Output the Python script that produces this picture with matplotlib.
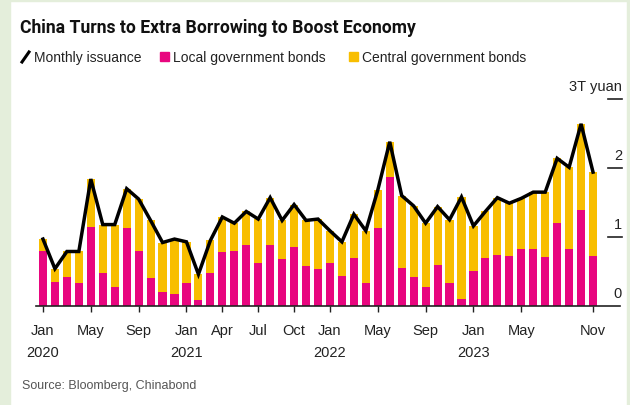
import numpy as np
import matplotlib
matplotlib.use("Agg")
import matplotlib.pyplot as plt
from matplotlib import font_manager
from matplotlib.patches import Rectangle
from matplotlib.lines import Line2D

# monthly bond issuance, trillion yuan, Jan 2020 - Nov 2023
local_bonds = [0.79, 0.35, 0.42, 0.34, 1.15, 0.48, 0.27, 1.13, 0.80, 0.41, 0.21, 0.18,
               0.34, 0.09, 0.48, 0.78, 0.80, 0.88, 0.63, 0.89, 0.68, 0.85, 0.58, 0.53,
               0.63, 0.44, 0.69, 0.33, 1.13, 1.87, 0.55, 0.42, 0.28, 0.60, 0.33, 0.10,
               0.51, 0.69, 0.74, 0.73, 0.83, 0.82, 0.71, 1.21, 0.83, 1.39, 0.73]
central_bonds = [0.18, 0.19, 0.37, 0.45, 0.69, 0.70, 0.91, 0.57, 0.75, 0.83, 0.71, 0.79,
                 0.59, 0.37, 0.47, 0.51, 0.40, 0.49, 0.63, 0.68, 0.56, 0.62, 0.66, 0.73,
                 0.46, 0.49, 0.64, 0.76, 0.55, 0.51, 1.05, 1.03, 0.92, 0.84, 0.92, 1.48,
                 0.65, 0.68, 0.83, 0.76, 0.73, 0.83, 0.94, 0.93, 1.18, 1.25, 1.21]

tick_months = [0, 4, 8, 12, 15, 18, 21, 24, 28, 32, 36, 40, 46]
tick_labels = ["Jan\n2020", "May", "Sep", "Jan\n2021", "Apr", "Jul", "Oct",
               "Jan\n2022", "May", "Sep", "Jan\n2023", "May", "Nov"]
y_ticks = [0, 1, 2, 3]
y_labels = ["0", "1", "2", "3T yuan"]

MAGENTA = "#e8067f"
YELLOW = "#f8be00"
W, H = 630, 406

names = {f.name for f in font_manager.fontManager.ttflist}
base_font = "Liberation Sans" if "Liberation Sans" in names else "DejaVu Sans"
title_font = "Roboto" if "Roboto" in names else base_font
plt.rcParams["font.family"] = [base_font, "DejaVu Sans"]

local = np.array(local_bonds)
central = np.array(central_bonds)
total = local + central
x = np.arange(len(local))

fig = plt.figure(figsize=(W / 100, H / 100), dpi=100)
fig.patch.set_facecolor("white")

# pale green frame around the card
for rx, ry, rw, rh in [(0, 0, 10, H), (0, H - 2, W, 2), (W - 3, 0, 3, H)]:
    fig.patches.append(Rectangle((rx / W, ry / H), rw / W, rh / H,
                                 transform=fig.transFigure, color="#e4eedb", zorder=0))

ax = fig.add_axes([35.8 / W, 99 / H, 563.2 / W, 207 / H])
ax.set_facecolor("none")

ax.bar(x, local, width=0.68, color=MAGENTA, zorder=2)
ax.bar(x, central, bottom=local, width=0.68, color=YELLOW, zorder=2)
ax.plot(x, total, color="black", lw=2.5, solid_joinstyle="miter", zorder=3, clip_on=False)

ax.set_xlim(-0.6, 46.5)
ax.set_ylim(0, 3)
for s in ax.spines.values():
    s.set_visible(False)
ax.axhline(0, xmin=0, xmax=1.038, color="#222222", lw=1.2, clip_on=False, zorder=4)

ax.set_xticks(tick_months)
ax.set_xticklabels(tick_labels, fontsize=10.5, color="#222222", linespacing=1.65)
ax.tick_params(axis="x", length=4.5, width=1, color="#222222", pad=8)
ax.set_yticks([])

# right-hand scale: label sits above a short dash
ytr = ax.get_yaxis_transform()
for v, lab in zip(y_ticks, y_labels):
    if v > 0:
        ax.plot([1.016, 1.041], [v, v], color="#222222", lw=1.2, transform=ytr, clip_on=False)
    ax.annotate(lab, xy=(1.041, v), xycoords=ytr, xytext=(0, 9), textcoords="offset pixels",
                ha="right", va="baseline", fontsize=10.5, color="#222222")

fig.text(20 / W, 1 - 33 / H, "China Turns to Extra Borrowing to Boost Economy",
         fontsize=12.7, fontweight="bold", family=[title_font, "DejaVu Sans"],
         color="#111111", va="baseline")

# legend row
leg_y = 1 - 62 / H
fig.lines.append(Line2D([22 / W, 29 / W], [1 - 63 / H, 1 - 53 / H], transform=fig.transFigure,
                        color="black", lw=2.2))
fig.text(34 / W, leg_y, "Monthly issuance", fontsize=10, color="#222222", va="baseline")
fig.patches.append(Rectangle((160 / W, 1 - 62 / H), 9 / W, 9 / H, transform=fig.transFigure,
                             color=MAGENTA))
fig.text(173 / W, leg_y, "Local government bonds", fontsize=10, color="#222222", va="baseline")
fig.patches.append(Rectangle((349 / W, 1 - 62 / H), 9 / W, 9 / H, transform=fig.transFigure,
                             color=YELLOW))
fig.text(362 / W, leg_y, "Central government bonds", fontsize=10, color="#222222", va="baseline")

fig.text(22 / W, 1 - 389 / H, "Source: Bloomberg, Chinabond", fontsize=9, color="#555555",
         va="baseline")

fig.savefig("out.png", dpi=100, facecolor="white")
